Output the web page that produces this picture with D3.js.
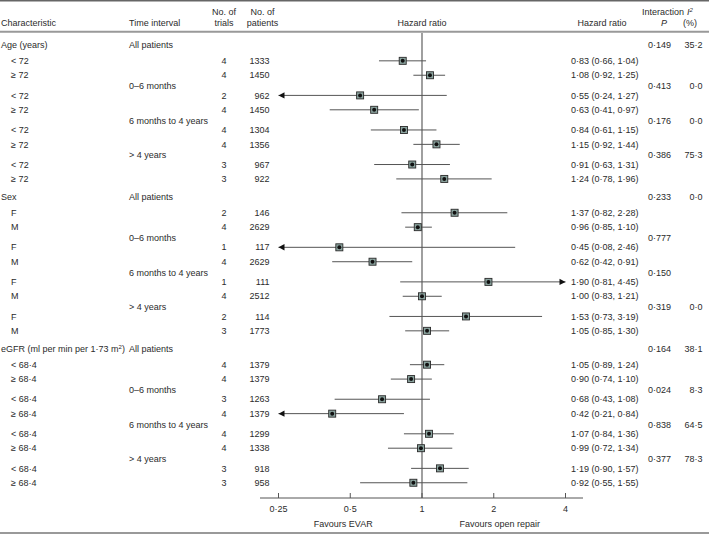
<!DOCTYPE html>
<html>
<head>
<meta charset="utf-8">
<script src="https://cdn.jsdelivr.net/npm/d3@7"></script>
<style>
  html, body { margin: 0; padding: 0; background: #fff; }
  svg { display: block; font-family: "Liberation Sans", Arial, sans-serif; }
  text { fill: #2b2b2b; font-size: 9px; }
</style>
</head>
<body>
<svg id="chart" width="709" height="535"></svg>
<script>
// ---------- DATA ----------
const blocks = ["Age (years)", "Sex", "eGFR"];
const intervals = ["All patients", "0\u20136 months", "6 months to 4 years", "> 4 years"];
const subgroups = [["< 72", "\u2265 72"], ["F", "M"], ["< 68\u00b74", "\u2265 68\u00b74"]];

const trials = [
  [4, 4, 2, 4, 4, 4, 3, 3],
  [2, 4, 1, 4, 1, 4, 2, 3],
  [4, 4, 3, 4, 4, 4, 3, 3]
];
const patients = [
  [1333, 1450, 962, 1450, 1304, 1356, 967, 922],
  [146, 2629, 117, 2629, 111, 2512, 114, 1773],
  [1379, 1379, 1263, 1379, 1299, 1338, 918, 958]
];
const hr = [
  [0.83, 1.08, 0.55, 0.63, 0.84, 1.15, 0.91, 1.24],
  [1.37, 0.96, 0.45, 0.62, 1.90, 1.00, 1.53, 1.05],
  [1.05, 0.90, 0.68, 0.42, 1.07, 0.99, 1.19, 0.92]
];
const hrLow = [
  [0.66, 0.92, 0.24, 0.41, 0.61, 0.92, 0.63, 0.78],
  [0.82, 0.85, 0.08, 0.42, 0.81, 0.83, 0.73, 0.85],
  [0.89, 0.74, 0.43, 0.21, 0.84, 0.72, 0.90, 0.55]
];
const hrHigh = [
  [1.04, 1.25, 1.27, 0.97, 1.15, 1.44, 1.31, 1.96],
  [2.28, 1.10, 2.46, 0.91, 4.45, 1.21, 3.19, 1.30],
  [1.24, 1.10, 1.08, 0.84, 1.36, 1.34, 1.57, 1.55]
];
const interactionP = [
  ["0\u00b7149", "0\u00b7413", "0\u00b7176", "0\u00b7386"],
  ["0\u00b7233", "0\u00b7777", "0\u00b7150", "0\u00b7319"],
  ["0\u00b7164", "0\u00b7024", "0\u00b7838", "0\u00b7377"]
];
const iSquared = [
  ["35\u00b72", "0\u00b70", "0\u00b70", "75\u00b73"],
  ["0\u00b70", "", "", "0\u00b70"],
  ["38\u00b71", "8\u00b73", "64\u00b75", "78\u00b73"]
];
const tickValues = [0.25, 0.5, 1, 2, 4];
const tickLabels = ["0\u00b725", "0\u00b75", "1", "2", "4"];

// ---------- LAYOUT ----------
const svg = d3.select("#chart");
const W = 709, H = 535;

const x = d3.scaleLog().base(2).domain([0.25, 4]).range([278.5, 565.5]);
const y = d3.scaleLinear().domain([0, 1]).range([45, 59.4]); // row units

const fmt = v => d3.format(".2f")(v).replace(".", "\u00b7");
const col = { char: 1, sub: 11, interval: 129, trials: 224, patients: 269.5, hrText: 571, p: 648, i2: 702.5 };

// compute unit positions
const rows = [], headers = [], intervalLabels = [];
let pos = 0;
blocks.forEach((b, bi) => {
  headers.push({ bi, pos });
  intervalLabels.push({ bi, k: 0, pos });
  pos += 1.1;
  for (let k = 0; k < 4; k++) {
    if (k > 0) {
      intervalLabels.push({ bi, k, pos: pos - 1.2 + 0.07 });
      pos += 0.4;
    }
    for (let s = 0; s < 2; s++) {
      const i = k * 2 + s;
      rows.push({ bi, k, s, i, pos,
        label: subgroups[bi][s], trials: trials[bi][i], patients: patients[bi][i],
        hr: hr[bi][i], lo: hrLow[bi][i], hi: hrHigh[bi][i] });
      pos += 1;
    }
  }
  pos += 0.25;
});
// fix interval label pos: midpoint between previous pair's last row and next pair's first row
intervalLabels.forEach(l => {
  if (l.k > 0) {
    const prev = rows.find(r => r.bi === l.bi && r.i === l.k * 2 - 1);
    const next = rows.find(r => r.bi === l.bi && r.i === l.k * 2);
    l.pos = (prev.pos + next.pos) / 2 + 0.06;
  }
});

// ---------- RULES ----------
svg.append("line").attr("x1", 0).attr("x2", W).attr("y1", 0.8).attr("y2", 0.8)
  .attr("stroke", "#666").attr("stroke-width", 1.5);
svg.append("line").attr("x1", 0).attr("x2", W).attr("y1", 31.8).attr("y2", 31.8)
  .attr("stroke", "#999").attr("stroke-width", 2);
svg.append("line").attr("x1", 0).attr("x2", W).attr("y1", 533).attr("y2", 533)
  .attr("stroke", "#777").attr("stroke-width", 1.5);

// ---------- HEADER ----------
const hdr = svg.append("g");
const ht = (tx, ty, txt, anchor) => hdr.append("text").attr("x", tx).attr("y", ty)
  .attr("dy", "0.35em").attr("text-anchor", anchor || "start").text(txt);
ht(col.char, 23, "Characteristic");
ht(col.interval, 23, "Time interval");
ht(col.trials, 12, "No. of", "middle");
ht(col.trials, 23, "trials", "middle");
ht(262.5, 12, "No. of", "middle");
ht(262.5, 23, "patients", "middle");
ht(x(1), 23, "Hazard ratio", "middle");
ht(602, 23, "Hazard ratio", "middle");
ht(663, 12, "Interaction", "middle");
ht(664, 23, "P", "middle").style("font-style", "italic");
const i2h = hdr.append("text").attr("x", 690).attr("y", 12).attr("dy", "0.35em").attr("text-anchor", "middle");
i2h.append("tspan").style("font-style", "italic").text("I");
i2h.append("tspan").attr("dy", "-3").style("font-size", "6px").style("font-style", "italic").text("2");
ht(690, 23, "(%)", "middle");

// ---------- TABLE TEXT ----------
const tbl = svg.append("g");
headers.forEach(h => {
  const t = tbl.append("text").attr("x", col.char).attr("y", y(h.pos)).attr("dy", "0.35em");
  if (h.bi === 2) {
    t.append("tspan").text("eGFR (ml per min per 1\u00b773 m");
    t.append("tspan").attr("dy", "-3").style("font-size", "6px").text("2");
    t.append("tspan").attr("dy", "3").text(")");
  } else {
    t.text(blocks[h.bi]);
  }
});
intervalLabels.forEach(l => {
  tbl.append("text").attr("x", col.interval).attr("y", y(l.pos)).attr("dy", "0.35em").text(intervals[l.k]);
  tbl.append("text").attr("x", col.p).attr("y", y(l.pos)).attr("dy", "0.35em").text(interactionP[l.bi][l.k]);
  tbl.append("text").attr("x", col.i2).attr("y", y(l.pos)).attr("dy", "0.35em")
    .attr("text-anchor", "end").text(iSquared[l.bi][l.k]);
});
rows.forEach(r => {
  const yy = y(r.pos);
  tbl.append("text").attr("x", col.sub).attr("y", yy).attr("dy", "0.35em").text(r.label);
  tbl.append("text").attr("x", col.trials).attr("y", yy).attr("dy", "0.35em").attr("text-anchor", "middle").text(r.trials);
  tbl.append("text").attr("x", col.patients).attr("y", yy).attr("dy", "0.35em").attr("text-anchor", "end").text(r.patients);
  tbl.append("text").attr("x", col.hrText).attr("y", yy).attr("dy", "0.35em")
    .text(`${fmt(r.hr)} (${fmt(r.lo)}, ${fmt(r.hi)})`);
});

// ---------- PLOT ----------
const axisY = 498;
const plot = svg.append("g");
plot.append("line").attr("x1", x(1)).attr("x2", x(1)).attr("y1", 33).attr("y2", axisY)
  .attr("stroke", "#777").attr("stroke-width", 1.4);

const [dmin, dmax] = x.domain();
rows.forEach(r => {
  const yy = y(r.pos);
  const lo = Math.max(r.lo, dmin), hi = Math.min(r.hi, dmax);
  plot.append("line").attr("x1", x(lo)).attr("x2", x(hi)).attr("y1", yy).attr("y2", yy)
    .attr("stroke", "#555").attr("stroke-width", 1);
  if (r.lo < dmin) {
    const tx = x(dmin);
    plot.append("path").attr("d", `M${tx},${yy}L${tx + 6},${yy - 3.2}L${tx + 6},${yy + 3.2}Z`).attr("fill", "#111");
  }
  if (r.hi > dmax) {
    const tx = x(dmax);
    plot.append("path").attr("d", `M${tx},${yy}L${tx - 6},${yy - 3.2}L${tx - 6},${yy + 3.2}Z`).attr("fill", "#111");
  }
  const s = 7;
  plot.append("rect").attr("x", x(r.hr) - s / 2).attr("y", yy - s / 2).attr("width", s).attr("height", s)
    .attr("fill", "#8aa39e").attr("stroke", "#2a2a2a").attr("stroke-width", 0.9);
  plot.append("circle").attr("cx", x(r.hr)).attr("cy", yy).attr("r", 2).attr("fill", "#111");
});

// axis
const axis = svg.append("g");
axis.append("line").attr("x1", 260).attr("x2", 583).attr("y1", axisY).attr("y2", axisY)
  .attr("stroke", "#555").attr("stroke-width", 1);
tickValues.forEach((v, i) => {
  axis.append("line").attr("x1", x(v)).attr("x2", x(v)).attr("y1", axisY).attr("y2", axisY - 5)
    .attr("stroke", "#555").attr("stroke-width", 1);
  axis.append("text").attr("x", x(v)).attr("y", 509).attr("dy", "0.35em").attr("text-anchor", "middle").text(tickLabels[i]);
});
axis.append("text").attr("x", x(0.5) - 7).attr("y", 524).attr("dy", "0.35em").attr("text-anchor", "middle").text("Favours EVAR");
axis.append("text").attr("x", x(2) + 6).attr("y", 524).attr("dy", "0.35em").attr("text-anchor", "middle").text("Favours open repair");
</script>
</body>
</html>
